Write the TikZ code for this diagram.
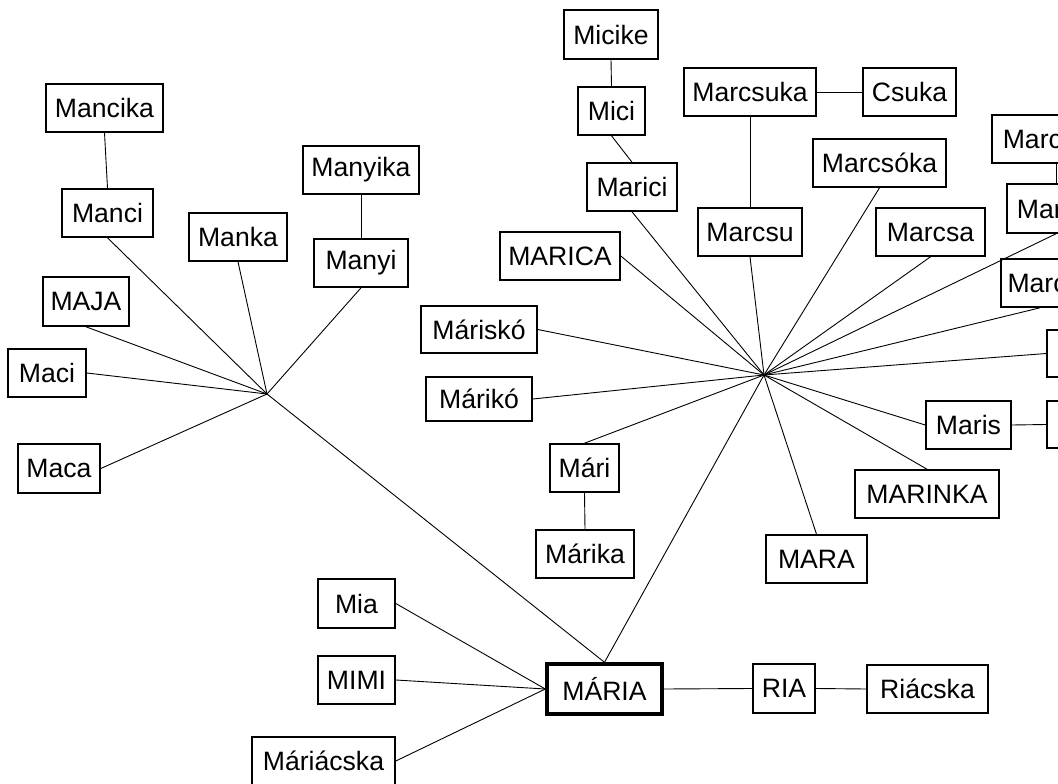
\documentclass[tikz,border=0pt]{standalone}
\usepackage{fontspec}
\setmainfont{Liberation Sans}
\begin{document}
\begin{tikzpicture}[x=1pt,y=-1pt,
  box/.style={draw=black, line width=1.6pt, fill=white, inner sep=0pt, minimum height=48pt,
    font=\fontsize{26.6}{31}\selectfont},
  mainbox/.style={box, line width=3.4pt},
  link/.style={draw=black, line width=0.9pt}]
\useasboundingbox (0,0) rectangle (1058,784);
\clip (0,0) rectangle (1058,784);
% hubs
\coordinate (L) at (267,394);
\coordinate (R) at (764,375);
% left group
\node[box, minimum width=117pt] (mancika) at (104.5,108) {Mancika};
\node[box, minimum width=91pt] (manci) at (107.5,213) {Manci};
\node[box, minimum width=98pt] (manka) at (238,237) {Manka};
\node[box, minimum width=116pt] (manyika) at (361,170) {Manyika};
\node[box, minimum width=94pt] (manyi) at (361,263) {Manyi};
\node[box, minimum width=86pt, minimum height=49pt] (maja) at (86,301.5) {MAJA};
\node[box, minimum width=78pt] (maci) at (47,373) {Maci};
\node[box, minimum width=82pt, minimum height=49pt] (maca) at (59,468.5) {Maca};
% right group
\node[box, minimum width=94pt, minimum height=49pt] (micike) at (611,34.5) {Micike};
\node[box, minimum width=67pt] (mici) at (611.5,111) {Mici};
\node[box, minimum width=90pt] (marici) at (632,187) {Marici};
\node[box, minimum width=132pt] (marcsuka) at (750,92) {Marcsuka};
\node[box, minimum width=93pt] (csuka) at (909.5,92) {Csuka};
\node[box, minimum width=133pt] (marcsoka) at (879.5,163) {Marcsóka};
\node[box, minimum width=104pt] (marcsu) at (750,232) {Marcsu};
\node[box, minimum width=109pt] (marcsa) at (930.5,232) {Marcsa};
\node[box, minimum width=120pt] (marica) at (560,256) {MARICA};
\node[box, minimum width=116pt, minimum height=47pt] (marisko) at (479,329.5) {Máriskó};
\node[box, minimum width=106pt, minimum height=44pt] (mariko) at (479,399) {Márikó};
\node[box, minimum width=69pt] (mari) at (584.5,468) {Mári};
\node[box, minimum width=98pt] (marika) at (585,554) {Márika};
\node[box, minimum width=101pt] (mara) at (816.5,559) {MARA};
\node[box, minimum width=144pt] (marinka) at (927,494) {MARINKA};
\node[box, minimum width=85pt] (maris) at (968.5,425) {Maris};
\node[box, minimum width=111pt, minimum height=47pt] (maria2) at (1102.5,424.5) {Mária};
\node[box, minimum width=113pt, minimum height=47pt] (mariska) at (1103.5,353.5) {Mariska};
\node[box, minimum width=78pt] (marci) at (1040,283) {Marci};
\node[box, minimum width=98pt, minimum height=49pt] (marcsi) at (1056,208.5) {Marcsi};
\node[box, minimum width=128pt] (marcsika) at (1056,139) {Marcsika};
% bottom group
\node[box, minimum width=77pt, minimum height=49pt] (mia) at (356.5,603.5) {Mia};
\node[box, minimum width=77pt] (mimi) at (356.5,680) {MIMI};
\node[box, minimum width=143pt] (mariacska) at (323.5,761) {Máriácska};
\node[mainbox, minimum width=115pt, minimum height=50pt] (maria) at (604.5,689) {MÁRIA};
\node[box, minimum width=62pt, minimum height=49pt] (ria) at (784,688.5) {RIA};
\node[box, minimum width=121pt] (riacska) at (927.5,689) {Riácska};
% connectors, left hub
\path[link] (L) -- (manci.south);
\path[link] (manci.north) -- (mancika.south);
\path[link] (L) -- (manka.south);
\path[link] (L) -- (manyi.south);
\path[link] (manyi.north) -- (manyika.south);
\path[link] (L) -- (maja.south);
\path[link] (L) -- (maci.east);
\path[link] (L) -- (maca.east);
\path[link] (L) -- (maria.north);
% connectors, right hub
\path[link] (R) -- (marici.south);
\path[link] (marici.north) -- (mici.south);
\path[link] (mici.north) -- (micike.south);
\path[link] (R) -- (marcsu.south);
\path[link] (marcsu.north) -- (marcsuka.south);
\path[link] (marcsuka.east) -- (csuka.west);
\path[link] (R) -- (marcsoka.south);
\path[link] (R) -- (marcsa.south);
\path[link] (R) -- (marcsi.south);
\path[link] (marcsi.north) -- (marcsika.south);
\path[link] (R) -- (marci.south);
\path[link] (R) -- (mariska.west);
\path[link] (R) -- (maris.west);
\path[link] (maris.east) -- (maria2.west);
\path[link] (R) -- (marinka.north);
\path[link] (R) -- (mara.north);
\path[link] (R) -- (mari.north);
\path[link] (mari.south) -- (marika.north);
\path[link] (R) -- (mariko.east);
\path[link] (R) -- (marisko.east);
\path[link] (R) -- (marica.east);
\path[link] (R) -- (maria.north);
% connectors, MARIA
\path[link] (mia.east) -- (maria.west);
\path[link] (mimi.east) -- (maria.west);
\path[link] (mariacska.east) -- (maria.west);
\path[link] (maria.east) -- (ria.west);
\path[link] (ria.east) -- (riacska.west);
\end{tikzpicture}
\end{document}
